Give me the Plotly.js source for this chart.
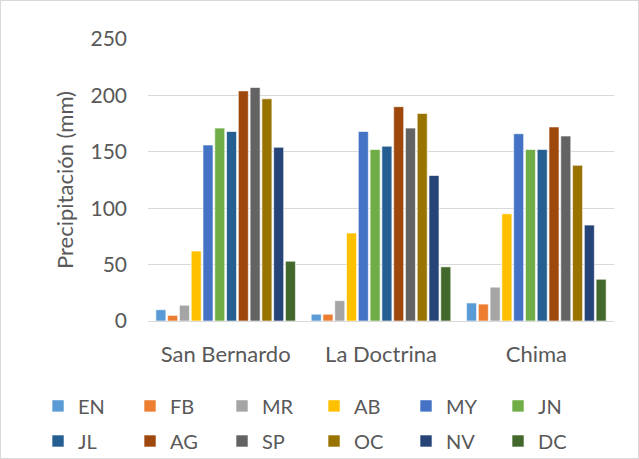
<!DOCTYPE html>
<html><head><meta charset="utf-8">
<script src="https://cdn.plot.ly/plotly-3.0.1.min.js"></script>
<style>
html,body{margin:0;padding:0;background:#fff;}
#wrap{position:relative;width:639px;height:459px;}
#chart{width:639px;height:459px;}
#border{position:absolute;left:0;top:0;width:637px;height:457px;border:1px solid #d9d9d9;pointer-events:none;}
</style></head>
<body><div id="wrap"><div id="chart"></div><div id="border"></div></div>
<script>
const categories = ["San Bernardo", "La Doctrina", "Chima"];
const months = ["EN","FB","MR","AB","MY","JN","JL","AG","SP","OC","NV","DC"];
const EN = [10, 6, 16];
const FB = [5, 6, 15];
const MR = [14, 18, 30];
const AB = [62, 78, 95];
const MY = [156, 168, 166];
const JN = [171, 152, 152];
const JL = [168, 155, 152];
const AG = [204, 190, 172];
const SP = [207, 171, 164];
const OC = [197, 184, 138];
const NV = [154, 129, 85];
const DC = [53, 48, 37];
const series = [EN, FB, MR, AB, MY, JN, JL, AG, SP, OC, NV, DC];
const colors = ["#5B9BD5","#ED7D31","#A5A5A5","#FFC000","#4472C4","#70AD47","#255E91","#9E480E","#636363","#997300","#264478","#43682B"];
const yTicks = [0, 50, 100, 150, 200, 250];

const font = "Lato, 'Open Sans', sans-serif";
const traces = months.map((m, i) => ({
  type: "bar", name: m, x: categories, y: series[i],
  legend: i < 6 ? "legend" : "legend2",
  marker: {color: colors[i], line: {color: "rgba(255,255,255,0.6)", width: 1}},
  hoverinfo: "skip"
}));
const legendBase = {
  orientation: "h", x: -0.236, xanchor: "left", yanchor: "middle",
  entrywidth: 47, entrywidthmode: "pixels", font: {size: 20, color: "#595959"},
  traceorder: "normal", bgcolor: "rgba(0,0,0,0)"
};
const layout = {
  width: 639, height: 459,
  margin: {l: 148, r: 25, t: 39, b: 138, autoexpand: false},
  barmode: "group", bargap: 0.09, bargroupgap: 0.15,
  paper_bgcolor: "#fff", plot_bgcolor: "#fff",
  font: {family: font, color: "#595959", size: 21},
  xaxis: {type: "category", showgrid: false, showline: true, linecolor: "#d9d9d9", linewidth: 1,
          ticks: "", tickfont: {size: 22, color: "#595959"}, ticklabelstandoff: 14},
  yaxis: {range: [0, 250], tickvals: yTicks, showgrid: true, gridcolor: "#d9d9d9", gridwidth: 1,
          zeroline: false, showline: false, ticks: "", tickfont: {size: 21, color: "#595959"},
          ticklabelstandoff: 20,
          title: {text: "Precipitación (mm)", font: {size: 22, color: "#595959"}, standoff: 10}},
  legend: Object.assign({}, legendBase, {y: -0.301}),
  legend2: Object.assign({}, legendBase, {y: -0.4255}),
  showlegend: true
};
Plotly.newPlot("chart", traces, layout, {displayModeBar: false, staticPlot: true});
</script></body></html>
